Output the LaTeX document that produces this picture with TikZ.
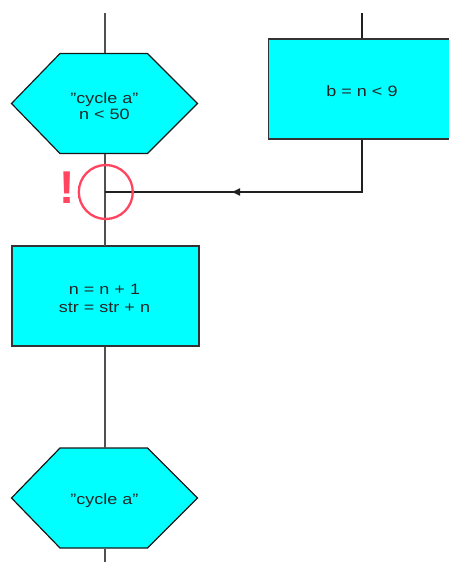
\documentclass[tikz,border=0pt]{standalone}
\usepackage{fontspec}
\setmainfont[FakeStretch=1.2]{Liberation Sans}
\newfontfamily\bangfont{Liberation Sans Bold}
\usetikzlibrary{arrows.meta}
\definecolor{boxcyan}{HTML}{00FFFF}
\definecolor{lineleft}{HTML}{505050}
\definecolor{lineright}{HTML}{202020}
\definecolor{markred}{HTML}{FF4560}
\tikzset{
  lbl/.style={font=\fontsize{15}{15}\selectfont,align=center,text=black!85,inner sep=0pt},
  procbox/.style={rectangle,draw=black!80,line width=1.1pt,fill=boxcyan,minimum width=187pt,minimum height=100pt,inner sep=0pt},
  hexcore/.style={rectangle,minimum width=186pt,minimum height=100pt,inner sep=0pt},
  hexline/.style={draw=black!90,line width=1.2pt,fill=boxcyan,line join=miter},
  flowl/.style={draw=lineleft,line width=1.3pt},
  flowr/.style={draw=lineright,line width=1.2pt},
  marker/.style={circle,draw=markred,line width=2.3pt,minimum size=54pt,inner sep=0pt},
  bang/.style={text=markred,font=\bangfont\fontsize{46}{46}\selectfont,inner sep=0pt}
}
\newcommand{\hexat}[3]{%
  \node[hexcore] (#1) at (#2,#3) {};
  \draw[hexline] (#2-93,#3) -- (#2-44.5,#3-50) -- (#2+43,#3-50) -- (#2+93,#3) -- (#2+43,#3+50) -- (#2-44.5,#3+50) -- cycle;
}
\begin{document}
\begin{tikzpicture}[x=1pt,y=-1pt]
\useasboundingbox (0,0) rectangle (448,562);
\fill[white] (0,0) rectangle (448,562);
\coordinate (topa) at (105,13);
\coordinate (topb) at (362,13);
\coordinate (bot) at (105,562);
\coordinate (join) at (105,192);
\coordinate (turn) at (362,192);
\coordinate (tip) at (231,192);
\hexat{hexa}{104.5}{103.5}
\node[procbox] (boxb) at (362,89) {};
\node[procbox] (boxc) at (105.5,296) {};
\hexat{hexc}{104.5}{498}
\draw[flowl] (topa) -- (105,53);
\draw[flowr] (topb) -- (boxb.north);
\draw[flowl] (105,154) -- (105,245.5);
\draw[flowl] (105,346.5) -- (105,447.5);
\draw[flowl] (105,548.5) -- (bot);
\node[lbl] (hexatxt) at (104.5,106) {"cycle a"\\[1pt]n < 50};
\node[lbl] (boxbtxt) at (362,91) {b = n < 9};
\node[lbl] (boxctxt) at (104.5,298) {n = n + 1\\[3pt]str = str + n};
\node[lbl] (hexctxt) at (104.5,501) {"cycle a"};
\draw[flowr] (boxb.south) -- (turn) -- (join);
\draw[flowr,-{Latex[length=9pt,width=8pt]}] (turn) -- (tip);
\node[marker] (ring) at (105.8,192) {};
\node[bang] (excl) at (67.5,188) {!};
\end{tikzpicture}
\end{document}
